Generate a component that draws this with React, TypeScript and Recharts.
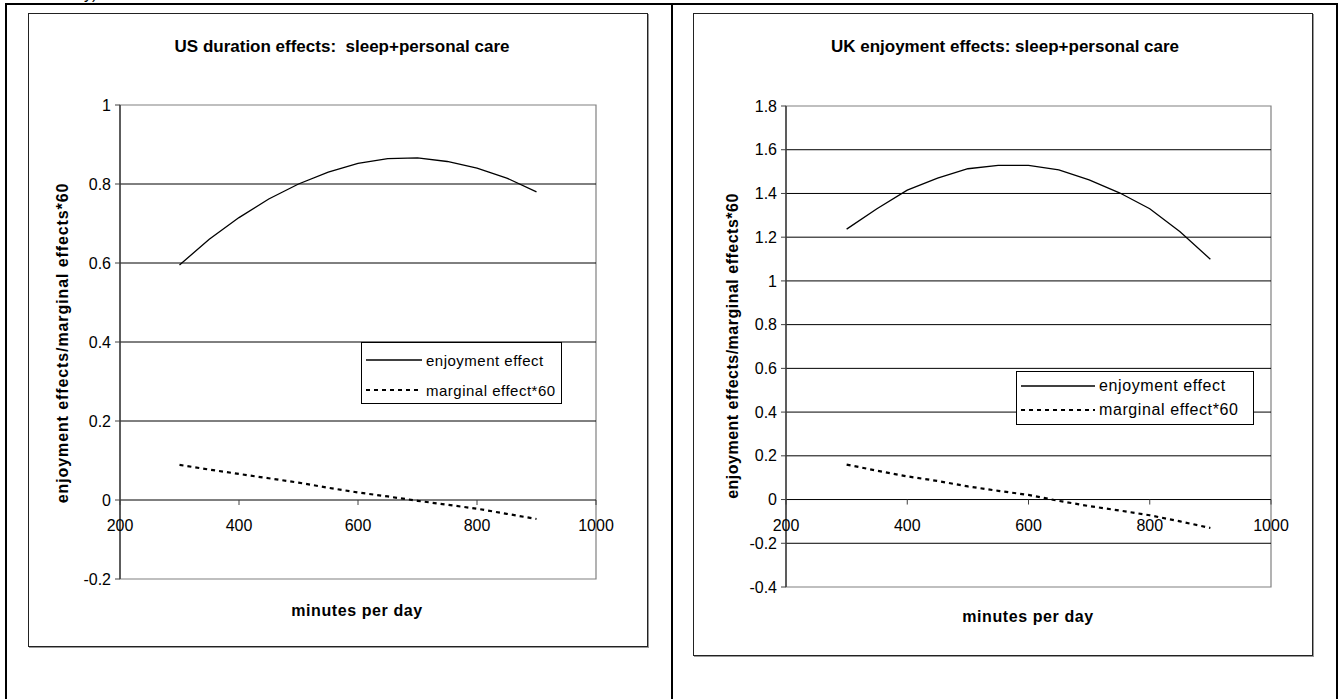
import React from 'react';
import { LineChart, Line, XAxis, YAxis, Legend, ReferenceArea, ReferenceLine } from 'recharts';

// minutes per day at which each effect was evaluated
const minutes = [300, 350, 400, 450, 500, 550, 600, 650, 700, 750, 800, 850, 900];

const usEnjoyment = [0.595, 0.66, 0.715, 0.762, 0.8, 0.83, 0.852, 0.864, 0.866, 0.857, 0.84, 0.815, 0.78];
const usMarginal = [0.089, 0.077, 0.066, 0.055, 0.044, 0.031, 0.019, 0.009, -0.002, -0.012, -0.022, -0.035, -0.048];

const ukEnjoyment = [1.237, 1.33, 1.415, 1.47, 1.513, 1.528, 1.528, 1.508, 1.462, 1.403, 1.33, 1.225, 1.099];
const ukMarginal = [0.16, 0.132, 0.106, 0.085, 0.06, 0.04, 0.021, -0.006, -0.03, -0.05, -0.072, -0.1, -0.13];

const xTicks = [200, 400, 600, 800, 1000];
const usTicks = [-0.2, 0, 0.2, 0.4, 0.6, 0.8, 1];
const ukTicks = [-0.4, -0.2, 0, 0.2, 0.4, 0.6, 0.8, 1, 1.2, 1.4, 1.6, 1.8];

const seriesNames = ['enjoyment effect', 'marginal effect*60'];

const FONT = '"Liberation Sans", Arial, sans-serif';
const AXIS_W = 60;
const XAXIS_H = 30;

type Box = { left: number; top: number; width: number; height: number };
type Margin = { top: number; right: number; bottom: number; left: number };

interface LegendStyle {
  box: Box;
  rowGap: number;
  sample: number;
  fontSize: number;
  spacing: number;
}

interface PanelProps {
  title: string;
  enjoyment: number[];
  marginal: number[];
  yTicks: number[];
  box: Box;
  margin: Margin;
  legend: LegendStyle;
  titleAt: [number, number];
  xLabelAt: [number, number];
  yLabelAt: [number, number];
  yLabelSpacing: number;
}

// x tick drawn on the zero line instead of the plot bottom
function ZeroTick(props: any) {
  const { x, y, payload, shift } = props;
  const y0 = y + shift;
  return (
    <g>
      <line x1={x} x2={x} y1={y0} y2={y0 + 5} stroke="#404040" />
      <text x={x} y={y0 + 31} textAnchor="middle" fontSize={16} fontFamily={FONT} fill="#000">
        {payload.value}
      </text>
    </g>
  );
}

function LegendBox({ payload, st }: any) {
  return (
    <div
      style={{
        width: '100%',
        height: '100%',
        boxSizing: 'border-box',
        border: '1px solid #000',
        background: '#fff',
        fontFamily: FONT,
        fontSize: st.fontSize,
        letterSpacing: st.spacing,
        paddingTop: 2,
        whiteSpace: 'nowrap',
      }}
    >
      {(payload || []).map((entry: any) => {
        const dash = entry.payload?.strokeDasharray;
        return (
          <div key={entry.value} style={{ display: 'flex', alignItems: 'center', height: st.rowGap }}>
            <svg width={st.sample} height={6} style={{ marginLeft: 4, marginRight: 4, flex: 'none' }}>
              <line
                x1={0}
                x2={st.sample}
                y1={3}
                y2={3}
                stroke="#000"
                strokeWidth={dash ? 2.2 : 1.3}
                strokeDasharray={dash}
              />
            </svg>
            <span>{entry.value}</span>
          </div>
        );
      })}
    </div>
  );
}

function Panel(p: PanelProps) {
  const data = minutes.map((m, i) => ({ minutes: m, enjoyment: p.enjoyment[i], marginal: p.marginal[i] }));
  const yMin = p.yTicks[0];
  const yMax = p.yTicks[p.yTicks.length - 1];
  const plotH = p.box.height - p.margin.top - p.margin.bottom - XAXIS_H;
  const shift = -plotH * (0 - yMin) / (yMax - yMin);
  const inner = p.yTicks.filter((t) => t !== yMin && t !== yMax);

  return (
    <div style={{ position: 'absolute', left: p.box.left, top: p.box.top, width: p.box.width, height: p.box.height }}>
      <div
        style={{
          position: 'absolute',
          inset: 0,
          border: '1px solid #222',
          boxShadow: '1px 1px 0 #999',
        }}
      />
      <LineChart
        width={p.box.width}
        height={p.box.height}
        data={data}
        margin={p.margin}
        style={{ position: 'absolute', left: 0, top: 0 }}
      >
        <ReferenceArea x1={200} x2={1000} y1={yMin} y2={yMax} fill="none" stroke="#808080" strokeWidth={1.2} />
        {inner.map((t) => (
          <ReferenceLine key={t} y={t} stroke="#000" strokeWidth={1} />
        ))}
        <XAxis
          dataKey="minutes"
          type="number"
          domain={[200, 1000]}
          ticks={xTicks}
          interval={0}
          height={XAXIS_H}
          axisLine={false}
          tickLine={false}
          tickSize={0}
          tickMargin={0}
          allowDataOverflow
          tick={(tp: any) => <ZeroTick {...tp} shift={shift} />}
        />
        <YAxis
          type="number"
          domain={[yMin, yMax]}
          ticks={p.yTicks}
          interval={0}
          width={AXIS_W}
          allowDataOverflow
          tickSize={5}
          tickMargin={4}
          axisLine={{ stroke: '#404040', strokeWidth: 1.5 }}
          tickLine={{ stroke: '#404040' }}
          tick={{ fontSize: 16, fill: '#000', fontFamily: FONT }}
        />
        <Legend
          layout="horizontal"
          verticalAlign="middle"
          align="center"
          wrapperStyle={{
            position: 'absolute',
            left: p.legend.box.left,
            top: p.legend.box.top,
            width: p.legend.box.width,
            height: p.legend.box.height,
          }}
          content={(lp: any) => <LegendBox {...lp} st={p.legend} />}
        />
        <Line
          type="linear"
          dataKey="enjoyment"
          name={seriesNames[0]}
          stroke="#000"
          strokeWidth={1.3}
          dot={false}
          isAnimationActive={false}
        />
        <Line
          type="linear"
          dataKey="marginal"
          name={seriesNames[1]}
          stroke="#000"
          strokeWidth={2.2}
          strokeDasharray="4 4"
          dot={false}
          isAnimationActive={false}
        />
      </LineChart>
      <div
        style={{
          position: 'absolute',
          left: p.titleAt[0],
          top: p.titleAt[1],
          transform: 'translate(-50%, -50%)',
          fontFamily: FONT,
          fontSize: 17,
          fontWeight: 'bold',
          whiteSpace: 'pre',
          lineHeight: '20px',
        }}
      >
        {p.title}
      </div>
      <div
        style={{
          position: 'absolute',
          left: p.xLabelAt[0],
          top: p.xLabelAt[1],
          transform: 'translate(-50%, -50%)',
          fontFamily: FONT,
          fontSize: 16,
          fontWeight: 'bold',
          letterSpacing: 0.6,
          whiteSpace: 'pre',
          lineHeight: '20px',
        }}
      >
        minutes per day
      </div>
      <div
        style={{
          position: 'absolute',
          left: p.yLabelAt[0],
          top: p.yLabelAt[1],
          transform: 'translate(-50%, -50%) rotate(-90deg)',
          fontFamily: FONT,
          fontSize: 16,
          fontWeight: 'bold',
          letterSpacing: p.yLabelSpacing,
          whiteSpace: 'pre',
          lineHeight: '20px',
        }}
      >
        enjoyment effects/marginal effects*60
      </div>
    </div>
  );
}

export default function App() {
  const rule = (left: number, top: number, width: number, height: number) => (
    <div style={{ position: 'absolute', left, top, width, height, background: '#000' }} />
  );

  return (
    <div
      style={{
        position: 'absolute',
        left: 0,
        top: 0,
        width: 1341,
        height: 699,
        background: '#fff',
        overflow: 'hidden',
      }}
    >
      <div
        style={{
          position: 'absolute',
          left: 84,
          top: -14,
          fontFamily: FONT,
          fontSize: 16,
          lineHeight: '16px',
        }}
      >
        y)
      </div>
      {rule(5, 3, 1333, 2)}
      {rule(5, 3, 2, 696)}
      {rule(671, 3, 2, 696)}
      {rule(1336, 3, 2, 696)}

      <Panel
        title="US duration effects:  sleep+personal care"
        enjoyment={usEnjoyment}
        marginal={usMarginal}
        yTicks={usTicks}
        box={{ left: 28, top: 13, width: 620, height: 634 }}
        margin={{ top: 92, right: 52, bottom: 68 - XAXIS_H, left: 92 - AXIS_W }}
        legend={{ box: { left: 333, top: 329, width: 201, height: 62 }, rowGap: 30, sample: 56, fontSize: 15, spacing: 0.5 }}
        titleAt={[314, 33.5]}
        xLabelAt={[329, 598]}
        yLabelAt={[35, 330]}
        yLabelSpacing={0.9}
      />
      <Panel
        title="UK enjoyment effects: sleep+personal care"
        enjoyment={ukEnjoyment}
        marginal={ukMarginal}
        yTicks={ukTicks}
        box={{ left: 693, top: 13, width: 620, height: 643 }}
        margin={{ top: 93, right: 42, bottom: 69 - XAXIS_H, left: 93 - AXIS_W }}
        legend={{ box: { left: 323, top: 358, width: 238, height: 54 }, rowGap: 24, sample: 74, fontSize: 16, spacing: 0.6 }}
        titleAt={[312, 33.5]}
        xLabelAt={[335, 604]}
        yLabelAt={[40, 333]}
        yLabelSpacing={0.5}
      />
    </div>
  );
}
